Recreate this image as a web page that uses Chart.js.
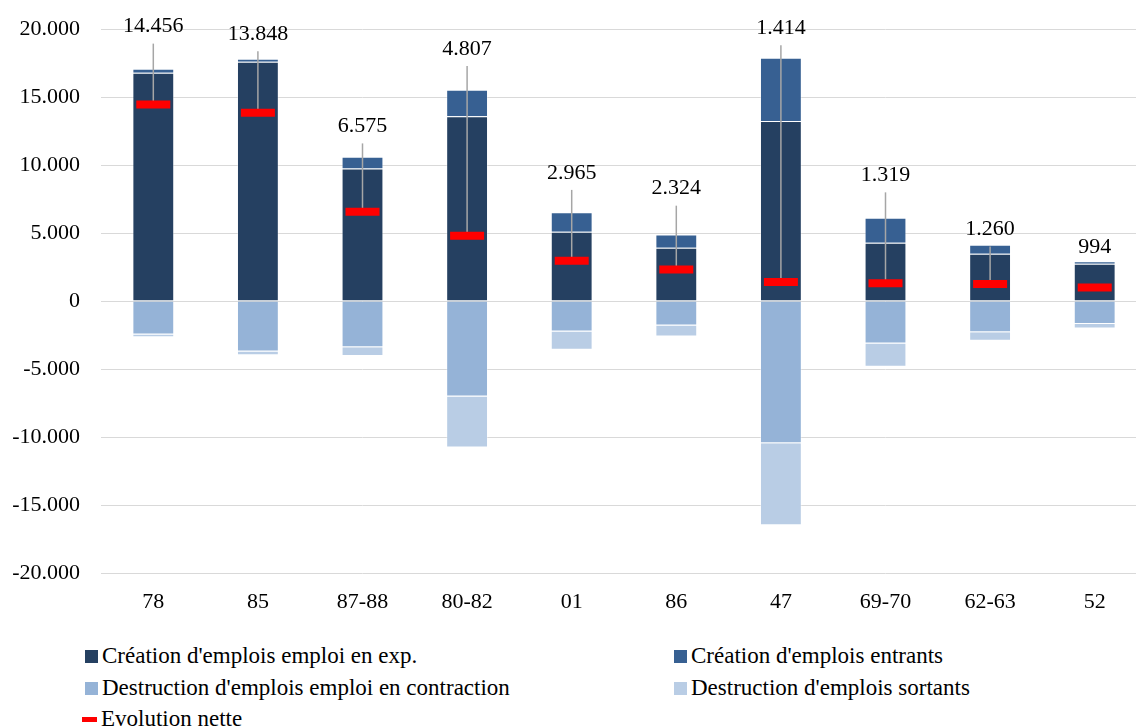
<!DOCTYPE html>
<html>
<head>
<meta charset="utf-8">
<title>Création et destruction d'emplois</title>
<script src="https://cdn.jsdelivr.net/npm/chart.js@4"></script>
<style>
    html, body { margin: 0; padding: 0; background: #fff; overflow: hidden; }
    #wrap { position: relative; width: 1148px; height: 728px; overflow: hidden; }
    #jobsChart { position: absolute; left: 0; top: -5px; }
    .item {
        position: absolute;
        display: flex;
        align-items: center;
        font-family: "Liberation Serif", serif;
        font-size: 23px;
        color: #000;
        white-space: nowrap;
        height: 30px;
    }
    .swatch { width: 13px; height: 13px; margin-right: 4px; }
    .dash { width: 15px; height: 5px; margin-right: 4px; }
</style>
</head>
<body>
<div id="wrap">
    <canvas id="jobsChart" width="1148" height="635"></canvas>
    <div id="legend"></div>
</div>
<script>
// Data
const categories = ["78", "85", "87-88", "80-82", "01", "86", "47", "69-70", "62-63", "52"];
const creationExp = [16800, 17600, 9760, 13600, 5100, 3920, 13240, 4290, 3490, 2750];
const creationEntrants = [290, 220, 860, 1940, 1440, 980, 4660, 1840, 660, 190];
const destructionContraction = [-2450, -3700, -3400, -7010, -2230, -1790, -10460, -3110, -2300, -1690];
const destructionSortants = [-200, -290, -640, -3750, -1350, -810, -6030, -1710, -610, -320];
const evolutionNette = [14456, 13848, 6575, 4807, 2965, 2324, 1414, 1319, 1260, 994];
const yTicks = [-20000, -15000, -10000, -5000, 0, 5000, 10000, 15000, 20000];

const seriesNames = [
    "Création d'emplois emploi en exp.",
    "Création d'emplois entrants",
    "Destruction d'emplois emploi en contraction",
    "Destruction d'emplois sortants",
    "Evolution nette",
];
const seriesColors = ["#254061", "#376092", "#95B3D7", "#B9CDE5", "#FF0000"];

// where Excel left the moved net labels (value units)
const netLabelY = [20190, 19630, 12850, 18550, 9430, 8270, 20070, 9250, 5265, 3990];

const FONT = "Liberation Serif";

function fmt(v) {
    const s = String(Math.abs(Math.round(v))).replace(/\B(?=(\d{3})+(?!\d))/g, ".");
    return v < 0 ? "-" + s : s;
}

// leader lines + labels for the net evolution markers
const netLabels = {
    id: "netLabels",
    beforeDatasetDraw(chart, args) {
        if (args.index !== 4) return;
        const ctx = chart.ctx;
        const y = chart.scales.y;
        ctx.save();
        ctx.strokeStyle = "#A6A6A6";
        ctx.lineWidth = 1.5;
        args.meta.data.forEach((pt, i) => {
            const ly = y.getPixelForValue(netLabelY[i]);
            if (pt.y - ly < 48) return;
            ctx.beginPath();
            ctx.moveTo(pt.x, ly + 17);
            ctx.lineTo(pt.x, pt.y);
            ctx.stroke();
        });
        ctx.restore();
    },
    afterDatasetsDraw(chart) {
        const ctx = chart.ctx;
        const meta = chart.getDatasetMeta(4);
        const y = chart.scales.y;
        ctx.save();
        ctx.font = "22px '" + FONT + "'";
        ctx.fillStyle = "#000";
        ctx.textAlign = "center";
        ctx.textBaseline = "middle";
        meta.data.forEach((pt, i) => {
            ctx.fillText(fmt(evolutionNette[i]), pt.x, y.getPixelForValue(netLabelY[i]));
        });
        ctx.restore();
    },
};

const barSets = [creationExp, creationEntrants, destructionContraction, destructionSortants].map((d, i) => ({
    type: "bar",
    label: seriesNames[i],
    data: d,
    backgroundColor: seriesColors[i],
    borderColor: "rgba(255,255,255,0.35)",
    borderWidth: 1,
    barPercentage: 1,
    categoryPercentage: 0.4,
    order: 1,
}));

new Chart(document.getElementById("jobsChart"), {
    data: {
        labels: categories,
        datasets: [
            ...barSets,
            {
                type: "line",
                label: seriesNames[4],
                data: evolutionNette,
                stack: "net",
                showLine: false,
                borderColor: seriesColors[4],
                pointStyle: "line",
                pointRadius: 17,
                pointHoverRadius: 17,
                pointBorderWidth: 8,
                pointBorderColor: seriesColors[4],
                order: 0,
            },
        ],
    },
    options: {
        responsive: false,
        animation: false,
        layout: { autoPadding: false, padding: { top: 29, right: 1, left: 0, bottom: 0 } },
        plugins: {
            legend: { display: false },
            tooltip: { enabled: false },
        },
        scales: {
            x: {
                stacked: true,
                grid: { display: false, drawTicks: false },
                border: { display: false },
                ticks: { color: "#000", padding: 16, font: { family: FONT, size: 22 } },
                afterFit: (s) => { s.height = 57; },
            },
            y: {
                stacked: true,
                min: -20000,
                max: 20000,
                afterBuildTicks: (s) => { s.ticks = yTicks.map((v) => ({ value: v })); },
                grid: { color: "#D9D9D9", lineWidth: 1, drawTicks: false },
                border: { display: false },
                ticks: {
                    color: "#000",
                    padding: 21,
                    font: { family: FONT, size: 22 },
                    callback: (v) => fmt(v),
                },
                afterFit: (s) => { s.width = 101; },
            },
        },
    },
    plugins: [netLabels],
});

// legend in two columns, like the original
const legendPos = [
    { x: 85, y: 656 }, { x: 674, y: 656 },
    { x: 85, y: 688 }, { x: 674, y: 688 },
    { x: 82, y: 719 },
];
const legend = document.getElementById("legend");
seriesNames.forEach((name, i) => {
    const item = document.createElement("div");
    item.className = "item";
    item.style.left = legendPos[i].x + "px";
    item.style.top = (legendPos[i].y - 15) + "px";
    const mark = document.createElement("span");
    mark.className = i === 4 ? "dash" : "swatch";
    mark.style.background = seriesColors[i];
    const txt = document.createElement("span");
    txt.textContent = name;
    item.appendChild(mark);
    item.appendChild(txt);
    legend.appendChild(item);
});
</script>
</body>
</html>
